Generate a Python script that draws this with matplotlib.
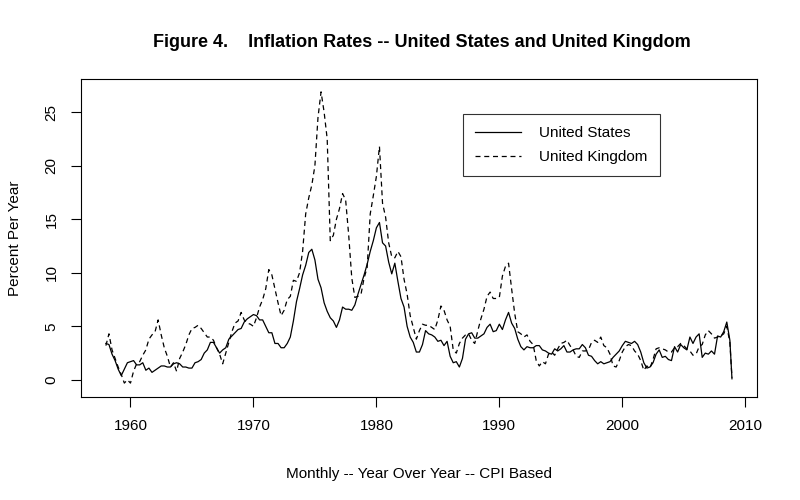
import numpy as np
import matplotlib.pyplot as plt

plt.rcParams['font.family'] = ['Liberation Sans', 'DejaVu Sans']

# quarterly year-over-year CPI inflation, 1958Q1 .. 2008Q4, plus Dec 2008
us = [3.4, 3.3, 2.4, 1.8,
      1.0, 0.4, 1.0, 1.6,
      1.7, 1.8, 1.4, 1.4,
      1.6, 0.9, 1.1, 0.7,
      0.9, 1.1, 1.3, 1.3,
      1.2, 1.2, 1.5, 1.6,
      1.5, 1.2, 1.2, 1.1,
      1.1, 1.6, 1.7, 1.9,
      2.5, 2.8, 3.5, 3.5,
      3.0, 2.5, 2.8, 3.0,
      3.8, 4.1, 4.4, 4.7,
      4.8, 5.4, 5.7, 5.9,
      6.1, 6.0, 5.6, 5.6,
      5.0, 4.4, 4.4, 3.4,
      3.4, 3.0, 3.0, 3.4,
      4.0, 5.5, 7.3, 8.5,
      9.8, 10.7, 11.9, 12.2,
      11.2, 9.4, 8.6, 7.2,
      6.4, 5.8, 5.5, 4.9,
      5.6, 6.8, 6.6, 6.6,
      6.5, 7.0, 8.0, 8.9,
      9.8, 10.8, 12.0, 13.0,
      14.2, 14.7, 12.8, 12.5,
      11.0, 9.9, 10.9, 9.2,
      7.6, 6.8, 5.0, 4.0,
      3.5, 2.6, 2.6, 3.3,
      4.6, 4.3, 4.2, 4.0,
      3.6, 3.7, 3.2, 3.6,
      2.2, 1.6, 1.7, 1.2,
      2.0, 3.8, 4.3, 4.4,
      3.9, 3.9, 4.1, 4.3,
      4.9, 5.2, 4.5, 4.6,
      5.2, 4.7, 5.6, 6.3,
      5.3, 4.8, 3.8, 3.1,
      2.8, 3.1, 3.0, 3.0,
      3.2, 3.2, 2.8, 2.7,
      2.5, 2.4, 2.9, 2.7,
      2.9, 3.2, 2.6, 2.6,
      2.8, 2.9, 2.9, 3.3,
      3.0, 2.3, 2.2, 1.8,
      1.5, 1.7, 1.5, 1.6,
      1.7, 2.1, 2.4, 2.7,
      3.2, 3.6, 3.5, 3.4,
      3.6, 3.3, 2.6, 1.6,
      1.1, 1.2, 1.6, 2.4,
      2.8, 2.1, 2.2, 1.9,
      1.8, 3.1, 2.6, 3.3,
      3.0, 2.8, 4.0, 3.4,
      4.0, 4.3, 2.1, 2.5,
      2.4, 2.7, 2.4, 4.1,
      4.0, 4.5, 5.4, 3.7,
      0.1]

uk = [3.2, 4.3, 2.8, 2.0,
      1.2, 0.5, -0.3, 0.0,
      -0.3, 0.8, 1.5, 1.7,
      2.3, 2.8, 3.8, 4.2,
      4.5, 5.6, 4.2, 3.0,
      2.2, 1.2, 1.6, 0.8,
      2.0, 2.6, 3.3, 4.2,
      4.8, 4.9, 5.1, 4.8,
      4.4, 4.0, 4.0, 3.7,
      3.0, 2.4, 1.5, 2.5,
      3.5, 4.5, 5.3, 5.5,
      6.3, 5.6, 5.3, 5.2,
      5.0, 5.8, 6.8, 7.5,
      8.5, 10.3, 9.8, 8.5,
      7.2, 6.0, 6.5, 7.5,
      7.8, 9.3, 9.2, 10.0,
      12.0, 15.5, 17.0, 18.2,
      20.0, 24.5, 26.9, 25.0,
      22.5, 13.0, 13.5, 15.0,
      16.0, 17.4, 16.8, 13.5,
      9.5, 7.7, 7.8, 8.0,
      9.5, 10.5, 15.5, 17.2,
      19.0, 21.8, 16.5, 15.2,
      12.8, 11.5, 11.4, 12.0,
      11.5, 9.4, 8.0, 6.0,
      4.9, 3.8, 4.6, 5.2,
      5.1, 5.1, 4.9, 4.7,
      5.6, 6.9, 6.5, 5.6,
      5.0, 2.8, 2.5, 3.4,
      3.9, 4.2, 4.3, 3.7,
      3.4, 4.6, 5.7, 6.6,
      7.8, 8.2, 7.6, 7.6,
      7.7, 9.7, 10.6, 10.9,
      8.5, 6.2, 4.5, 4.3,
      4.0, 4.2, 3.6, 3.3,
      1.8, 1.3, 1.7, 1.5,
      2.4, 2.6, 2.3, 2.9,
      3.4, 3.5, 3.7, 3.2,
      2.8, 2.2, 2.1, 2.7,
      2.7, 2.8, 3.5, 3.7,
      3.5, 4.0, 3.2, 3.0,
      2.4, 1.3, 1.2, 1.8,
      2.6, 3.1, 3.3, 3.2,
      2.7, 2.4, 1.8, 0.9,
      1.3, 1.1, 1.9, 2.9,
      3.0, 2.9, 2.8, 2.6,
      2.6, 3.0, 3.1, 3.4,
      3.2, 2.9, 2.7, 2.3,
      2.4, 3.1, 3.3, 4.2,
      4.6, 4.3, 3.9, 4.0,
      4.1, 4.3, 5.0, 3.5,
      0.2]

years = np.append(np.arange(1958, 2009, 0.25), 2008.92)

fig = plt.figure(figsize=(8, 5), dpi=100)
ax = fig.add_axes([0.101, 0.206, 0.845, 0.636])

ax.plot(years, us, color='black', linewidth=0.9, label='United States')
ax.plot(years, uk, color='black', linewidth=0.9, dashes=(4, 3),
        label='United Kingdom')

ax.set_xlim(1955.96, 2010.94)
ax.set_ylim(-1.6, 28.1)
ax.set_xticks([1960, 1970, 1980, 1990, 2000, 2010])
ax.set_yticks([0, 5, 10, 15, 20, 25])
ax.tick_params(axis='both', direction='out', length=7, width=0.8,
               labelsize=11, pad=9)
for lbl in ax.get_yticklabels():
    lbl.set_rotation(90)
    lbl.set_va('center')
for s in ax.spines.values():
    s.set_linewidth(0.8)

ax.set_xlabel('Monthly -- Year Over Year -- CPI Based', fontsize=11,
              labelpad=24)
ax.set_ylabel('Percent Per Year', fontsize=11, labelpad=16)
fig.text(0.527, 0.915, 'Figure 4.    Inflation Rates -- United States and United Kingdom',
         ha='center', va='center', fontsize=13, fontweight='bold')

leg = ax.legend(loc='upper left', bbox_to_anchor=(0.565, 0.89),
                borderaxespad=0, fancybox=False, edgecolor='black',
                fontsize=11, handlelength=3.0, borderpad=0.8,
                labelspacing=0.65, handletextpad=1.2)
leg.get_frame().set_linewidth(0.8)

fig.savefig('out.png', dpi=100)
